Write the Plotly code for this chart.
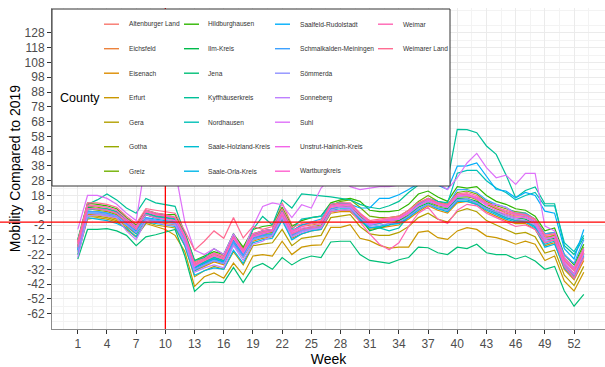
import math
import plotly.graph_objects as go

# ---------------------------------------------------------------------------
# Data: weekly mobility change (%) relative to 2019, Thuringian counties
# ---------------------------------------------------------------------------
weeks = list(range(1, 54))

altenburger_land = [-13, 12, 11, 10, 8, 2, -3, 7, 5, 5, 3, -9, -27, -24, -21, -23, -9, -18, -8, -6, -5, 13, -2, -2, -1, 0, 11, 12, 12, 5, 0, 1, 2, 3, 6, 12, 15, 12, 11, 18, 19, 16, 12, 9, 6, 4, 4, 0, -10, -9, -26, -32, -19]
eichsfeld = [-15, 10, 9, 8, 6, 1, -4, 6, 4, 3, 2, -10, -29, -26, -23, -25, -11, -20, -9, -7, -6, 7, -7, -3, -2, -1, 10, 11, 12, 5, -1, 0, 1, 2, 6, 11, 15, 12, 10, 18, 18, 15, 9, 6, 3, 1, 1, -3, -14, -12, -30, -37, -24]
eisenach = [-18, 5, 5, 4, 2, -3, -8, 2, 0, -1, -2, -14, -33, -30, -27, -29, -15, -24, -13, -11, -10, 2, -11, -8, -6, -5, 6, 7, 7, 1, -5, -4, -3, -2, 2, 7, 11, 8, 6, 13, 14, 12, 7, 4, 1, -1, -1, -5, -16, -14, -32, -39, -26]
erfurt = [-22, 2, 3, 2, 0, -4, -10, -1, -3, -5, -9, -20, -43.5, -37, -34.5, -38, -27.8, -35.7, -23, -22, -23, -13, -22, -17, -15.8, -15.5, -3.6, -3.6, -1.8, -11, -12.6, -15.8, -17.6, -17, -17, -7, -6, -10.6, -11.7, -6, -3.8, -5, -9.5, -10.6, -12.4, -15, -12.9, -15, -26, -23, -40, -46.7, -34]
gera = [-20, 4, 4, 3, 1, -5, -10, 0, -2, -3, -4, -16, -37, -33, -30, -32, -20, -29, -16, -15, -14, -5, -16, -11, -10, -9, 3, 4, 5, -3, -8, -9, -9, -7, -3, 3, 6, 2, 0, 7, 9, 7, 1, -2, -5, -8, -7, -10, -21, -19, -36, -43, -30]
gotha = [-16, 9, 8, 7, 5, 0, -5, 5, 3, 2, 1, -12, -31, -27, -24, -26, -13, -22, -10, -8, -7, 6, -8, -5, -3, -2, 9, 10, 11, 4, -2, -1, 1, 1, 5, 11, 14, 11, 10, 17, 17, 16, 12, 9, 7, 5, 4, 0, -11, -9, -28, -35, -21]
greiz = [-14, 11, 10, 9, 7, 2, -3, 6, 4, 4, 3, -9, -28, -25, -22, -24, -10, -19, -8, -6, -5, 8, -6, -2, -1, 0, 11, 14, 15, 10, 4, 3, 3, 4, 8, 14, 18, 14, 12, 20, 21, 19, 14, 11, 9, 7, 6, 2, -8, -7, -24, -31, -17]
hildburghausen = [-12, 13, 12, 11, 9, 3, -2, 8, 6, 5, 5, -7, -26, -23, -20, -22, -8, -17, -5, -3, -2, 10, -3, 1, 3, 4, 13, 15, 16, 14, 8, 7, 7, 8, 12, 19, 21, 17, 14, 24, 23, 24, 18, 14, 12, 9, 8, 4, -6, -4, -22, -29, -15]
ilm_kreis = [-17, 10, 9, 8, 6, 1, -4, 5, 3, 3, 2, -11, -31, -28, -25, -27, -13, -22, -11, -9, -8, 5, -9, -5, -4, -3, 9, 10, 10, 3, -6, -4, -2, 1, 4, 10, 13, 10, 9, 16, 16, 14, 10, 7, 5, 3, 2, -1, -12, -11, -28, -36, -22]
jena = [-25, -5, -5, -4.5, -6, -9, -16, -10, -8.6, -7, -5, -23, -47, -41, -40.6, -41, -30.7, -41, -30.7, -28, -32, -24, -29, -25, -23, -24, -13.5, -13, -13, -22, -26, -27, -28, -25.5, -24, -17, -17.4, -20.8, -22, -17, -18, -15, -20.8, -22, -22, -25, -23, -26.4, -32, -30, -46.7, -57, -49]
kyffhaeuserkreis = [-12, 12, 15, 19, 15, 9.5, 6, 16, 13, 12, 10.6, -8, -26, -24, -18, -22, -8, -22, -5, 3.8, -2, 15, 9.5, 19, 18.5, 18, 17, 16, 15, 12, 10, 9, 11, 14, 20, 25, 28, 30, 28, 62.8, 62.5, 60.5, 51.5, 45.8, 32, 16.5, 21.4, 23.7, 12.4, 12.4, -16, -22, -10.6]
nordhausen = [-17, 8, 9, 9, 7, 1, -4, 6, 4, 3, 2, -11, -30, -27, -24, -26, -13, -22, -9, -6, -5, 8, -5, 2, 3, 4, 12, 13, 12, 6, -3.6, -4, -6, -4, 4, 12, 16, 14, 13, 33, 35, 35, 28, 23, 20, 15, 18, 20, 11, 11, -14, -20, -9]
saale_holzland_kreis = [-19, 6, 6, 5, 3, -2, -8, 2, 1, 0, -1, -13, -33, -29, -26, -28, -14, -23, -12, -10, -9, 3, -10, -6, -5, -4, 8, 9, 9, 2, -4, -3, -1, -1, 3, 9, 12, 9, 8, 15, 15, 13, 9, 6, 3, 1, 0, -3, -15, -13, -29, -36, -21]
saale_orla_kreis = [-22, 3, 2, 1, -1, -4, -10, 0, -1, -2, -3, -16, -36, -33, -31, -32, -19, -28, -14, -12, -11, 1, -12, -8, -6, -5, 7, 8, 8, 1, -4, -3, -2, -1, 3, 8, 12, 9, 7, 14, 14, 12, 8, 5, 2, 0, 0, -4, -17, -15, -31, -38, -23]
saalfeld_rudolstadt = [-19, 7, 7, 6, 4, -1, -6, 3, 2, 1, 0, -12, -31, -28, -25, -27, -13, -22, -10, -8, -6, 7, -6, -2, 0, 2, 12, 13, 12, 9.5, 9.5, 16, 16, 18.5, 22, 26, 27, 25, 22, 37.9, 38, 40, 31, 22, 21, 16.5, 20, 18, 7.4, 6, -18, -25, -5]
schmalkalden_meiningen = [-18, 7, 7, 6, 4, -1, -7, 3, 1, 0, 0, -12, -32, -29, -26, -28, -13, -23, -11, -9, -8, 4, -9, -5, -4, -3, 9, 10, 10, 3, -2, -1, 1, 2, 6, 12, 16, 13, 11, 22, 22, 20, 15, 12, 10, 6, 6, 2, -8, -7, -22, -28, -12]
soemmerda = [-20, 6, 6, 5, 4, -2, -7, 2, 1, 0, -1, -13, -32, -29, -26, -28, -15, -24, -12, -10, -9, 4, -10, -6, -5, -4, 7, 8, 9, 3, -3, -2, -1, 0, 4, 9, 12, 10, 8, 15, 16, 13, 9, 7, 4, 2, 1, -2, -13, -12, -29, -36, -22]
sonneberg = [-24, 4, 5, 4, 3, -6, -12, 1, 0, -2, -2, -14, -34, -31, -29, -31, -16, -26, -15, -13, -9, 3, -10, -7, -5, -4, 8, 10, 10, 3, -2, 0, 1, 2, 6, 11, 14, 12, 10, 17, 18, 16, 12, 12, 10, 5, 4, 0, -11, -10, -27, -33, -19]
suhl = [-5, 18, 18, 16, 12, 6, 1, 42, 45, 40, 35, 0, -19, -22, -18, -22, -8, -20, -3, 10.6, 12.9, 11.7, 3, 11.7, 9.5, 23, 30, 30, 24, 22, 23, 24, 24, 25, 27, 29, 28, 26, 22, 30, 40, 46.5, 36.8, 30, 31.8, 25.5, 33, 33, -2.7, -6, -24, -31, -18]
unstrut_hainich_kreis = [-15, 9, 9, 8, 6, 1, -4, 5, 3, 2, 1, -11, -30, -26, -23, -25, -11, -21, -10, -8, -6, 6, -7, -4, -3, -1, 10, 11, 11, 5, -1, 0, 1, 2, 6, 11, 15, 12, 10, 18, 18, 16, 11, 8, 5, 3, 3, -1, -12, -10, -28, -35, -21]
wartburgkreis = [-14, 11, 11, 10, 8, 2, -3, 7, 5, 4, 3, -9, -28, -25, -21, -24, -10, -19, -8, -6, -5, 7, -6, -3, -1, 0, 11, 12, 12, 6, 0, 1, 2, 3, 7, 13, 16, 13, 11, 19, 19, 17, 13, 10, 7, 5, 5, 1, -9, -8, -25, -32, -18]
weimar = [-17, 9, 9, 8, 6, 0, -5, 8, 6, 5, 3, -10, -29, -26, -22, -25, -10, -20, -9, -7, -6, 5, -8, -5, -4, -3, 7, 8, 8, 0, -8, -15, -18.7, -14, -3, 6, 10, 2, -1, 8, 12, 11, 6, 3, 0, -3, -2, -5, -14, -12, -30, -38, -24]
weimarer_land = [-13, 13, 13, 12, 10, 4, -1, 9, 8, 7, 6, -6, -19, -13, -6, -11, 3, -10.8, -3, -5, -3, 9, -4, -1, 0, 1, 12, 13, 13, 6, 1, 2, 3, 4, 8, 13, 16, 13, 12, 19, 20, 18, 13, 10, 8, 6, 5, 2, -9, -8, -26, -33, -20]

counties = [
    ("Altenburger Land", altenburger_land),
    ("Eichsfeld", eichsfeld),
    ("Eisenach", eisenach),
    ("Erfurt", erfurt),
    ("Gera", gera),
    ("Gotha", gotha),
    ("Greiz", greiz),
    ("Hildburghausen", hildburghausen),
    ("Ilm-Kreis", ilm_kreis),
    ("Jena", jena),
    ("Kyffhäuserkreis", kyffhaeuserkreis),
    ("Nordhausen", nordhausen),
    ("Saale-Holzland-Kreis", saale_holzland_kreis),
    ("Saale-Orla-Kreis", saale_orla_kreis),
    ("Saalfeld-Rudolstadt", saalfeld_rudolstadt),
    ("Schmalkalden-Meiningen", schmalkalden_meiningen),
    ("Sömmerda", soemmerda),
    ("Sonneberg", sonneberg),
    ("Suhl", suhl),
    ("Unstrut-Hainich-Kreis", unstrut_hainich_kreis),
    ("Wartburgkreis", wartburgkreis),
    ("Weimar", weimar),
    ("Weimarer Land", weimarer_land),
]

x_ticks = list(range(1, 53, 3))
y_ticks = list(range(-62, 129, 10))
reference_week = 10
baseline = 0


# ---------------------------------------------------------------------------
# Discrete hue palette (evenly spaced HCL hues, L=65, C=100)
# ---------------------------------------------------------------------------
def hcl_to_hex(h, c=100.0, l=65.0):
    white_y, un, vn = 100.0, 0.1978398, 0.4683363
    hr = math.radians(h)
    U, V = c * math.cos(hr), c * math.sin(hr)
    Y = white_y * ((l + 16) / 116) ** 3 if l > 8 else white_y * l / 903.3
    u = U / (13 * l) + un
    v = V / (13 * l) + vn
    X = 9.0 * Y * u / (4 * v)
    Z = -X / 3 - 5 * Y + 3 * Y / v

    def gtrans(t):
        t = 1.055 * t ** (1 / 2.4) - 0.055 if t > 0.00304 else 12.92 * t
        return min(1.0, max(0.0, t))

    r = gtrans((3.240479 * X - 1.537150 * Y - 0.498535 * Z) / white_y)
    g = gtrans((-0.969256 * X + 1.875992 * Y + 0.041556 * Z) / white_y)
    b = gtrans((0.055648 * X - 0.204043 * Y + 1.057311 * Z) / white_y)
    return "#{:02X}{:02X}{:02X}".format(round(r * 255), round(g * 255), round(b * 255))


n = len(counties)
palette = [hcl_to_hex(15 + 360 * i / n) for i in range(n)]

# ---------------------------------------------------------------------------
# Canvas geometry
# ---------------------------------------------------------------------------
W, H = 605, 367
ML, MR, MT, MB = 52, 0, 8, 38
PW, PH = W - ML - MR, H - MT - MB
x_range = [-1.65, 55.18]
y_range = [-72.4, 144.9]
FONT = "Liberation Sans, Arial, sans-serif"


def px(xp):
    return (xp - ML) / PW


def py(yp):
    return (H - MB - yp) / PH


fig = go.Figure()
for (name, values), color in zip(counties, palette):
    fig.add_trace(go.Scatter(
        x=weeks, y=values, mode="lines", name=name,
        line=dict(color=color, width=1.2),
        showlegend=False,
        hovertemplate=name + "<br>Week %{x}: %{y}<extra></extra>",
    ))

shapes = []
annotations = []

# reference lines
y0_paper = (baseline - y_range[0]) / (y_range[1] - y_range[0])
shapes.append(dict(type="line", xref="paper", yref="paper", x0=-ML / PW, x1=1,
                   y0=y0_paper, y1=y0_paper, line=dict(color="#FF0000", width=1.3),
                   layer="above"))
shapes.append(dict(type="line", xref="x", yref="paper", x0=reference_week, x1=reference_week,
                   y0=0, y1=1, line=dict(color="#FF0000", width=1.3), layer="above"))

# legend box in the upper-left corner of the panel
box_right, box_top, box_bottom = 450, 9, 186
shapes.append(dict(type="rect", xref="paper", yref="paper",
                   x0=px(ML), x1=px(box_right), y0=py(box_bottom), y1=py(box_top),
                   fillcolor="white", line=dict(color="#333333", width=1), layer="above"))

annotations.append(dict(text="County", xref="paper", yref="paper", x=px(58), y=py(97.7),
                        xanchor="left", yanchor="middle", showarrow=False,
                        font=dict(family=FONT, size=12.5, color="#000000")))

key_x = [104, 184, 275, 378]
text_x = [126.7, 206, 297.7, 400.7]
rows = 7
for i, ((name, _), color) in enumerate(zip(counties, palette)):
    col, row = divmod(i, rows)
    yrow = 24.2 + 24.5 * row
    shapes.append(dict(type="line", xref="paper", yref="paper",
                       x0=px(key_x[col]), x1=px(key_x[col] + 15),
                       y0=py(yrow), y1=py(yrow),
                       line=dict(color=color, width=1.4), layer="above"))
    annotations.append(dict(text=name, xref="paper", yref="paper",
                            x=px(text_x[col]), y=py(yrow),
                            xanchor="left", yanchor="middle", showarrow=False,
                            font=dict(family=FONT, size=6.6, color="#333333")))

axis_common = dict(
    showline=True, linecolor="#8C8C8C", linewidth=1,
    ticks="outside", ticklen=4, tickwidth=1, tickcolor="#333333",
    tickfont=dict(family=FONT, size=12, color="#4D4D4D"),
    showgrid=True, gridcolor="#EBEBEB", gridwidth=1,
    zeroline=False, fixedrange=True,
)

fig.update_layout(
    width=W, height=H,
    margin=dict(l=ML, r=MR, t=MT, b=MB, pad=0),
    paper_bgcolor="white", plot_bgcolor="white",
    font=dict(family=FONT),
    showlegend=False,
    shapes=shapes,
    annotations=annotations,
    xaxis=dict(
        range=x_range, tickmode="array", tickvals=x_ticks,
        ticktext=[str(v) for v in x_ticks],
        minor=dict(tickmode="array", tickvals=[v + 1.5 for v in range(-2, 53, 3)],
                   showgrid=True, gridcolor="#F3F3F3", gridwidth=0.6, ticks=""),
        title=dict(text="Week", standoff=2,
                   font=dict(family=FONT, size=14, color="#000000")),
        **axis_common,
    ),
    yaxis=dict(
        range=y_range, tickmode="array", tickvals=y_ticks,
        ticktext=[str(v) for v in y_ticks],
        minor=dict(tickmode="array", tickvals=[v + 5 for v in range(-72, 139, 10)],
                   showgrid=True, gridcolor="#F3F3F3", gridwidth=0.6, ticks=""),
        title=dict(text="Mobility Compared to 2019", standoff=0,
                   font=dict(family=FONT, size=14, color="#000000")),
        **axis_common,
    ),
)

fig.write_html("out.html")
